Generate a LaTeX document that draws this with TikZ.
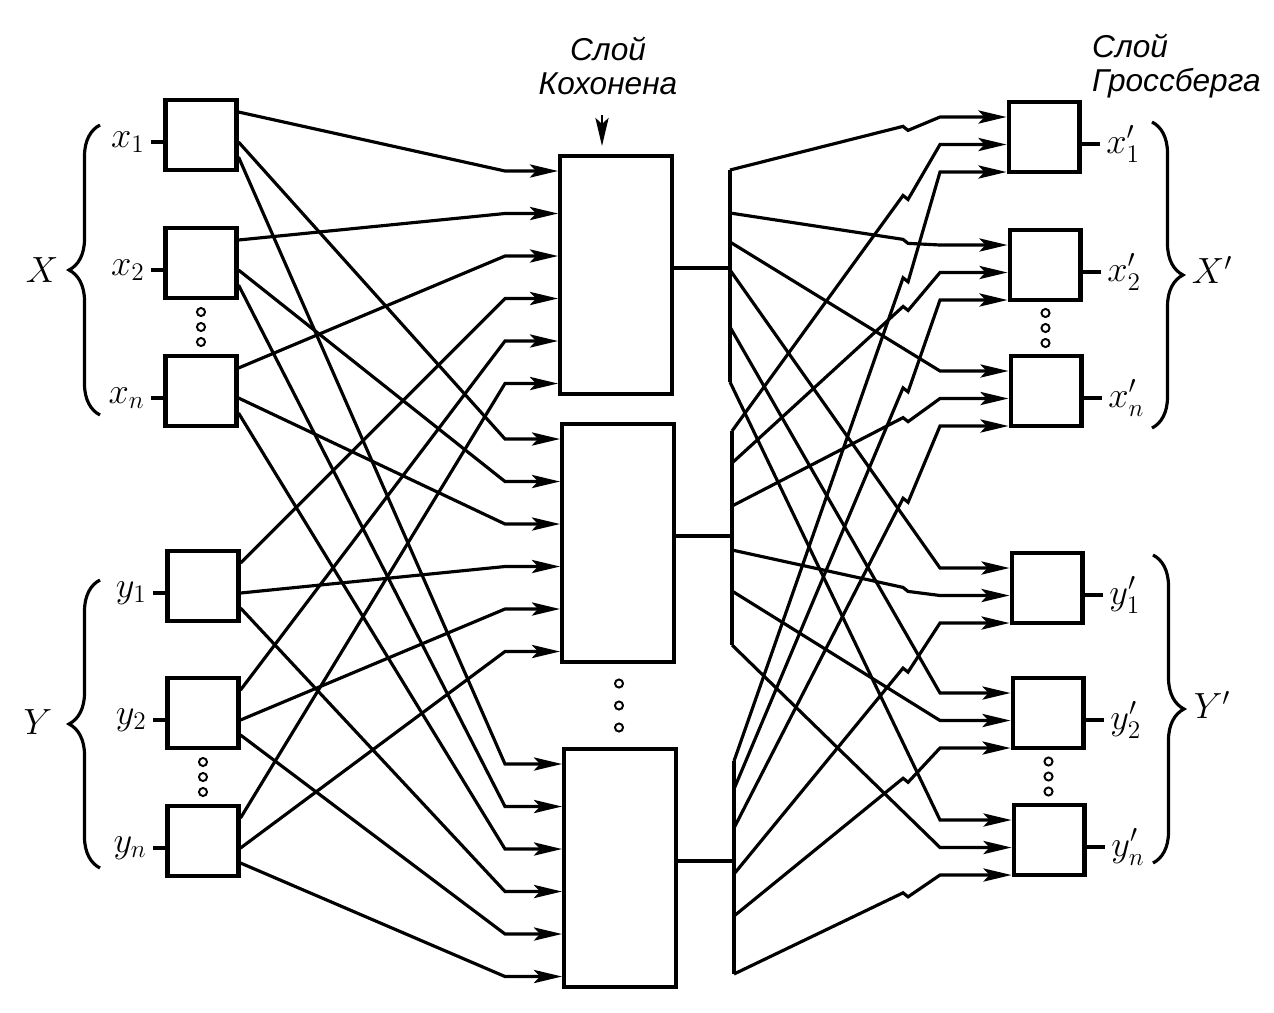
\documentclass[tikz,border=0pt]{standalone}
\usepackage{fontspec}
\newfontfamily\cyrfont{Liberation Sans}
\usetikzlibrary{arrows.meta,calc,decorations.pathreplacing}

\tikzset{
  cell/.style={draw, line width=2.3pt, minimum width=1.42cm, minimum height=1.4cm, inner sep=0pt},
  kcell/.style={draw, line width=2.3pt, minimum width=2.24cm, minimum height=4.76cm, inner sep=0pt},
  wire/.style={line width=1.8pt},
  bracex/.style={decorate, decoration={brace, amplitude=0.62cm}, line width=1.8pt},
  lbl/.style={font=\fontsize{21}{24}\selectfont},
  ttl/.style={font=\cyrfont\itshape\fontsize{18}{19}\selectfont}
}

\begin{document}
\begin{tikzpicture}[x=0.02cm, y=-0.02cm, >={Stealth[length=16pt,width=7.5pt,inset=3.5pt]}]
\useasboundingbox (0,0) rectangle (1274,1012);

% input layer
\node[cell] (x1) at (201,135) {};
\node[cell] (x2) at (201,263) {};
\node[cell] (xn) at (201,391) {};
\node[cell] (y1) at (203,586) {};
\node[cell] (y2) at (203,713) {};
\node[cell] (yn) at (203,841) {};

% Kohonen layer
\node[kcell] (k1) at (616,275) {};
\node[kcell] (k2) at (618,543) {};
\node[kcell] (k3) at (620,868) {};

% Grossberg layer
\node[cell] (gx1) at (1044,137) {};
\node[cell] (gx2) at (1045,265) {};
\node[cell] (gxn) at (1046,391) {};
\node[cell] (gy1) at (1047,588) {};
\node[cell] (gy2) at (1048,713) {};
\node[cell] (gyn) at (1049,840) {};

\foreach \n/\lab in {x1/x_1, x2/x_2, xn/x_n, y1/y_1, y2/y_2, yn/y_n}
  \draw[wire] ($(\n.west)+(0,7)$) -- ++(-12,0) node[left, lbl, inner sep=3pt] (l\n) {$\lab$};
\foreach \n/\lab in {gx1/x'_1, gx2/x'_2, gxn/x'_n, gy1/y'_1, gy2/y'_2, gyn/y'_n}
  \draw[wire] ($(\n.east)+(0,7)$) -- ++(18,0) node[right, lbl, inner sep=3pt] (l\n) {$\lab$};

% inputs -> Kohonen
\foreach \src [count=\i] in {x1,x2,xn,y1,y2,yn}
  \foreach \dst/\off in {k1/-23,k2/7,k3/22}{
    \pgfmathsetmacro\ty{-104+42.5*(\i-1)}
    \draw[wire,->] ($(\src.east)+(0,\off)$) -- ($(505,0 |- \dst.west)+(0,\ty)$) -- ($(\dst.west)+(0,\ty)$);
  }

% Kohonen outputs and buses
\foreach \bus/\top/\bot in {1/-98/114, 2/-105/109, 3/-100/113}{
  \coordinate (b\bus) at ($(k\bus.east)+(56,-7)$);
  \draw[wire] ($(k\bus.east)+(0,-7)$) -- (b\bus);
  \draw[wire] ($(b\bus)+(0,\top)$) -- ($(b\bus)+(0,\bot)$);
}

% buses -> Grossberg
\foreach \bus/\wires in {
  1/{-98/1/gx1,-55/1/gx2,-26/0/gxn,2/0/gy1,59/0/gy2,114/0/gyn},
  2/{-105/1/gx1,-73/1/gx2,-30/1/gxn,14/1/gy1,55/0/gy2,109/0/gyn},
  3/{-100/1/gx1,-72/1/gx2,-33/1/gxn,13/1/gy1,55/1/gy2,113/1/gyn}}{
  \pgfmathsetmacro\gy{-20+27.5*(\bus-1)}
  \foreach \dy/\jog/\gb in \wires{
    \coordinate (s) at ($(b\bus)+(0,\dy)$);
    \coordinate (t) at ($(\gb.west)+(0,\gy)$);
    \coordinate (c) at (940,0 |- t);
    \ifnum\jog=1
      \draw[wire,->] (s) -- (intersection of s--c and 903,0--903,1000) coordinate (p) -- ($(p)+(5,4)$) -- (c) -- (t);
    \else
      \draw[wire,->] (s) -- (c) -- (t);
    \fi
  }
}

% dots
\foreach \a/\b in {x2/xn, y2/yn, gx2/gxn, gy2/gyn}
  \foreach \d in {-15,0,15}
    \draw[line width=1.1pt] ($(\a.south)!.5!(\b.north)+(0,\d)$) circle[radius=2.3pt];
\foreach \d in {-22,0,22}
  \draw[line width=1.1pt] ($(k2.south)!.5!(k3.north)+(0,\d)$) circle[radius=2.3pt];

% braces
\draw[bracex] (100,415) -- (100,125);
\node[lbl] (bX) at (42,270) {$X$};
\draw[bracex] (100,868) -- (100,580);
\node[lbl] (bY) at (38,722) {$Y$};
\draw[bracex] (1152,122) -- (1152,428);
\node[lbl] (bXp) at (1212,270) {$X'$};
\draw[bracex] (1153,555) -- (1153,863);
\node[lbl] (bYp) at (1212,705) {$Y'$};

% titles
\node[ttl, align=center] (tk) at (608,66) {Слой\\Кохонена};
\draw[line width=1.5pt,->] ($(tk.south)+(-6,14)$) -- ($(tk.south |- k1.north)+(-6,-8)$);
\node[ttl, align=left, anchor=west] (tg) at (1086,66) {Слой\\Гроссберга};

\end{tikzpicture}
\end{document}
